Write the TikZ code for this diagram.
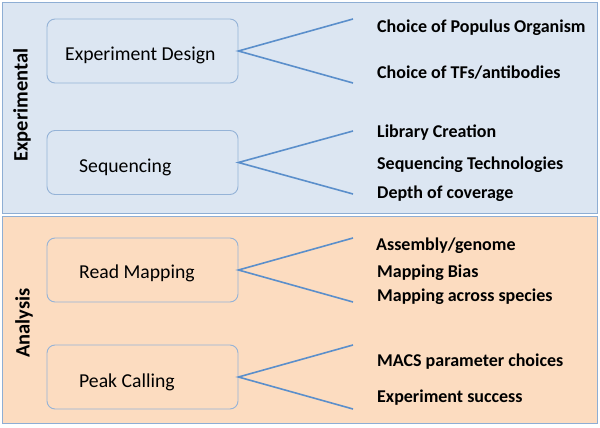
\documentclass[tikz,border=0pt]{standalone}
\usepackage{fontspec}
\setmainfont{Carlito}
\definecolor{panelblue}{HTML}{DCE6F2}
\definecolor{panelorange}{HTML}{FCDCC0}
\definecolor{panelborder}{HTML}{8EAED4}
\definecolor{boxborder}{HTML}{95B3D7}
\definecolor{linkblue}{HTML}{5B8FCB}
\begin{document}
\begin{tikzpicture}[x=1pt,y=-1pt,
  panel/.style={draw=panelborder,line width=1pt},
  stagebox/.style={draw=boxborder,line width=0.9pt,rounded corners=8pt,minimum width=191pt,minimum height=64pt,inner sep=0pt},
  stagetext/.style={anchor=west,font=\fontsize{19.7}{23}\selectfont,inner sep=0pt},
  itemtext/.style={anchor=west,font=\fontsize{18}{21}\selectfont\bfseries,inner sep=0pt},
  sidelabel/.style={rotate=90,font=\fontsize{20.5}{24}\selectfont\bfseries,inner sep=0pt},
  link/.style={draw=linkblue,line width=1.6pt}]
\useasboundingbox (0,0) rectangle (600,428);
% panels
\fill[white] (0,0) rectangle (600,428);
\draw[panel,fill=panelblue] (2.5,2.5) rectangle (597.5,213.5);
\draw[panel,fill=panelorange] (2.5,216.5) rectangle (597.5,423.5);
% side labels
\node[sidelabel] (lexp) at (22,105) {Experimental};
\node[sidelabel] (lana) at (24,323) {Analysis};
% stage boxes
\node[stagebox] (ed) at (142.5,51) {};
\node[stagebox] (sq) at (142.5,162.5) {};
\node[stagebox] (rm) at (142.5,270) {};
\node[stagebox] (pc) at (142.5,377) {};
\node[stagetext] (edt) at (65,55) {Experiment Design};
\node[stagetext] (sqt) at (79,167) {Sequencing};
\node[stagetext] (rmt) at (79,273) {Read Mapping};
\node[stagetext] (pct) at (79,382) {Peak Calling};
% connector ends
\coordinate (ed1) at (353,19);
\coordinate (ed2) at (353,83);
\coordinate (sq1) at (353,131);
\coordinate (sq2) at (353,194);
\coordinate (rm1) at (353,238);
\coordinate (rm2) at (353,302);
\coordinate (pc1) at (353,345);
\coordinate (pc2) at (353,409);
\draw[link] (ed1) -- (ed.east) -- (ed2);
\draw[link] (sq1) -- (sq.east) -- (sq2);
\draw[link] (rm1) -- (rm.east) -- (rm2);
\draw[link] (pc1) -- (pc.east) -- (pc2);
% items
\node[itemtext] (i1) at (377,28) {Choice of Populus Organism};
\node[itemtext] (i2) at (377,73) {Choice of TFs/antibodies};
\node[itemtext] (i3) at (377,133) {Library Creation};
\node[itemtext] (i4) at (377,165) {Sequencing Technologies};
\node[itemtext] (i5) at (377,194) {Depth of coverage};
\node[itemtext] (i6) at (376,246) {Assembly/genome};
\node[itemtext] (i7) at (377,273) {Mapping Bias};
\node[itemtext] (i8) at (377,297) {Mapping across species};
\node[itemtext] (i9) at (377,362) {MACS parameter choices};
\node[itemtext] (i10) at (377,398) {Experiment success};
\end{tikzpicture}
\end{document}
